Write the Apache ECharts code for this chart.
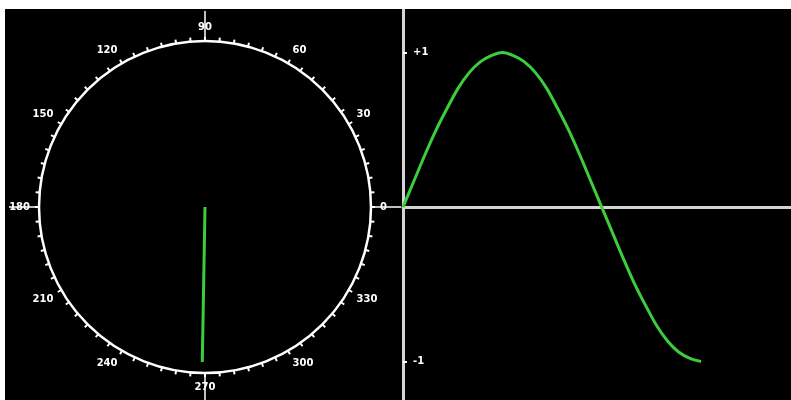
<!DOCTYPE html>
<html>
<head>
<meta charset="utf-8">
<script src="https://cdn.jsdelivr.net/npm/echarts@6/dist/echarts.min.js"></script>
<style>
  html, body { margin: 0; padding: 0; background: #fff; }
  #chart { position: absolute; left: 5px; top: 9px; width: 786px; height: 391px; }
</style>
</head>
<body>
<div id="chart"></div>
<script>
// 角度刻度（每30度一个标签）
const dialLabels = [0, 30, 60, 90, 120, 150, 180, 210, 240, 270, 300, 330];
// 相量：半径 0 -> 1，角度约 269 度
const phasorRadius = [0, 1];
const phasorAngle = 269;
// 右侧正弦曲线，从图上读取（每10度一个点）
const sineAngles = [0, 10, 20, 30, 40, 50, 60, 70, 80, 90, 100, 110, 120, 130, 140, 150, 160, 170, 180,
  190, 200, 210, 220, 230, 240, 250, 260, 270];
const sineValues = [0, 0.17, 0.34, 0.5, 0.64, 0.77, 0.87, 0.94, 0.98, 1, 0.98, 0.94, 0.87, 0.77, 0.64, 0.5, 0.34, 0.17, 0,
  -0.17, -0.34, -0.5, -0.64, -0.77, -0.87, -0.94, -0.98, -1];
const yTickValues = [-1, 1];
const yTickLabels = ['-1', '+1'];

const green = '#3ccc3c';
const chart = echarts.init(document.getElementById('chart'));

chart.setOption({
  backgroundColor: '#000',
  animation: false,
  polar: [
    { center: [200, 198], radius: 166 },
    { center: [200, 198], radius: 166 }
  ],
  angleAxis: [
    {
      polarIndex: 0, type: 'value', min: 0, max: 360, interval: 5,
      startAngle: 0, clockwise: false,
      axisLine: { lineStyle: { color: '#fff', width: 2.5 } },
      axisTick: { length: 4, lineStyle: { color: '#fff', width: 2 } },
      axisLabel: {
        color: '#fff', margin: 9, fontSize: 10, fontWeight: 'bold', fontFamily: 'DejaVu Sans',
        formatter: v => dialLabels.includes(v) ? String(v) : ''
      },
      splitLine: { show: false }
    },
    {
      // 0/90/180/270 的长刻度
      polarIndex: 1, type: 'value', min: 0, max: 360, interval: 90,
      startAngle: 0, clockwise: false,
      axisLine: { show: false },
      axisTick: { length: 30, lineStyle: { color: '#fff', width: 1.5 } },
      axisLabel: { show: false },
      splitLine: { show: false }
    }
  ],
  radiusAxis: [
    { polarIndex: 0, min: 0, max: 1.071, show: false },
    { polarIndex: 1, min: 0, max: 1, show: false }
  ],
  grid: { left: 398, right: 0, top: 0, bottom: 0 },
  xAxis: {
    type: 'value', min: 0, max: 351.5,
    axisLine: { onZero: true, lineStyle: { color: '#d4d4d4', width: 3 } },
    axisTick: { show: false },
    axisLabel: { show: false },
    splitLine: { show: false }
  },
  yAxis: {
    type: 'value', min: -1.249, max: 1.282,
    axisLine: { lineStyle: { color: '#d4d4d4', width: 3 } },
    axisTick: { show: true, inside: true, length: 4, customValues: yTickValues, lineStyle: { color: '#fff', width: 2 } },
    axisLabel: {
      inside: true, margin: 10, color: '#fff', fontSize: 10, fontWeight: 'bold', fontFamily: 'DejaVu Sans',
      customValues: yTickValues,
      formatter: v => yTickLabels[yTickValues.indexOf(v)] || ''
    },
    splitLine: { show: false }
  },
  series: [
    {
      type: 'line', coordinateSystem: 'polar', polarIndex: 0,
      data: phasorRadius.map(r => [r, phasorAngle]),
      symbol: 'none',
      lineStyle: { color: green, width: 3 }
    },
    {
      type: 'line', xAxisIndex: 0, yAxisIndex: 0,
      data: sineAngles.map((a, i) => [a, sineValues[i]]),
      smooth: 0.3, symbol: 'none',
      lineStyle: { color: green, width: 3 }
    }
  ]
});
</script>
</body>
</html>
